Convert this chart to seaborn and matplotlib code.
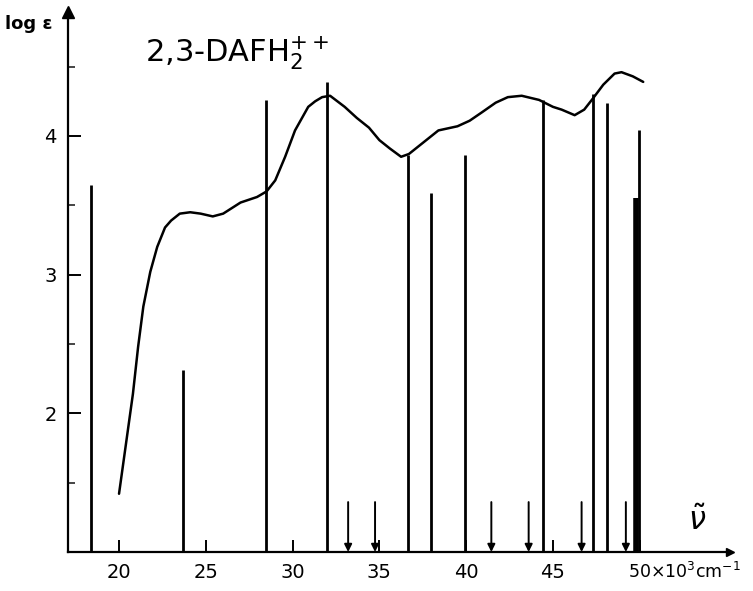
"""Absorption spectrum of 2,3-DAFH2++ with calculated transitions (sticks)."""

import matplotlib

matplotlib.use("Agg")
import matplotlib.pyplot as plt
import matplotlib.transforms as mtransforms
import numpy as np
import pandas as pd
import seaborn as sns

# measured absorption curve (wavenumber in 10^3 cm^-1, log eps)
curve_nu = [20.0, 20.4, 20.8, 21.1, 21.4, 21.8, 22.2, 22.65, 23.0, 23.5, 24.1,
            24.7, 25.4, 26.0, 26.5, 27.0, 27.95, 28.5, 29.0, 29.57, 30.14,
            30.9, 31.3, 31.7, 32.16, 33.0, 33.7, 34.4, 35.0, 35.6, 36.25,
            36.7, 37.5, 38.4, 39.5, 40.2, 40.9, 41.7, 42.4, 43.2, 44.2, 45.0,
            45.5, 46.25, 46.8, 47.3, 47.9, 48.55, 48.95, 49.6, 50.2]
curve_loge = [1.42, 1.78, 2.14, 2.48, 2.77, 3.02, 3.20, 3.34, 3.39, 3.44, 3.45,
              3.44, 3.42, 3.44, 3.48, 3.52, 3.56, 3.60, 3.68, 3.85, 4.04,
              4.21, 4.25, 4.28, 4.29, 4.21, 4.13, 4.06, 3.97, 3.91, 3.85,
              3.87, 3.95, 4.04, 4.07, 4.11, 4.17, 4.24, 4.28, 4.29, 4.26, 4.21,
              4.19, 4.15, 4.19, 4.27, 4.37, 4.45, 4.46, 4.43, 4.39]

# calculated transitions (allowed): position and height
stick_nu = [18.4, 23.7, 28.48, 32.0, 36.65, 37.98, 39.94, 44.45, 47.28, 48.09, 49.94]
stick_top = [3.65, 2.31, 4.26, 4.39, 3.86, 3.59, 3.86, 4.26, 4.30, 4.24, 4.04]
strong_nu = [49.8]
strong_top = [3.55]

# forbidden transitions (arrows)
arrow_nu = [33.2, 34.75, 41.45, 43.6, 46.65, 49.2]
arrow_top = 1.36

x_ticks = [20, 25, 30, 35, 40, 45, 50]
x_labels = ["20", "25", "30", "35", "40", "45", ""]
y_ticks = [2, 3, 4]
y_minor = [1.5, 2.5, 3.5, 4.5]

sns.set_style("ticks")
plt.rcParams["font.family"] = ["DejaVu Sans"]
plt.rcParams["text.color"] = "black"

fig = plt.figure(figsize=(7.53, 5.91), dpi=100)
ax = fig.add_axes([68 / 753, 39 / 591, 662 / 753, 540 / 591])
ax.set_xlim(17.06, 55.2)
ax.set_ylim(1.0, 4.894)

df = pd.DataFrame({"nu": curve_nu, "loge": curve_loge})
sns.lineplot(data=df, x="nu", y="loge", color="black", linewidth=1.8, ax=ax,
             sort=False)

ax.vlines(stick_nu, 1.0, stick_top, color="black", linewidth=2.0)
ax.vlines(strong_nu, 1.0, strong_top, color="black", linewidth=4.0)

for nu in arrow_nu:
    ax.annotate("", xy=(nu, 1.0), xytext=(nu, arrow_top),
                arrowprops=dict(arrowstyle="-|>", color="black", lw=1.4,
                                mutation_scale=11, shrinkA=0, shrinkB=0))

for side in ["top", "right"]:
    ax.spines[side].set_visible(False)
for side in ["left", "bottom"]:
    ax.spines[side].set_linewidth(1.6)
    ax.spines[side].set_color("black")

# axis arrows
ax.plot(0, 1, marker="^", color="black", markersize=9, transform=ax.transAxes,
        clip_on=False)
ax.plot(1, 0, marker=">", color="black", markersize=6, transform=ax.transAxes,
        clip_on=False)

ax.set_xticks(x_ticks)
ax.set_xticklabels(x_labels)
ax.set_yticks(y_ticks)
ax.set_yticklabels([str(t) for t in y_ticks])
ax.set_yticks(y_minor, minor=True)
ax.tick_params(axis="both", which="major", direction="in", length=9, width=1.4,
               labelsize=14, colors="black", pad=8)
ax.tick_params(axis="y", which="minor", direction="in", length=5, width=1.2)
ax.tick_params(axis="x", which="minor", length=0)
ax.set_xlabel("")
ax.set_ylabel("")

trans = mtransforms.blended_transform_factory(ax.transData, ax.transAxes)
ax.text(49.35, -0.0185, r"50$\times$10$^3$cm$^{-1}$", transform=trans,
        fontsize=12.5, ha="left", va="top")
ax.text(53.3, 0.03, r"$\tilde{\nu}$", transform=trans, fontsize=22,
        ha="center", va="bottom")

fig.text(5 / 753, 1 - 24 / 591, "log ε", fontsize=13,
         fontweight="bold", ha="left", va="center")
fig.text(145 / 753, 1 - 62 / 591, r"2,3-DAFH$_2^{++}$", fontsize=22,
         ha="left", va="baseline")

fig.savefig("out.png", dpi=100)
